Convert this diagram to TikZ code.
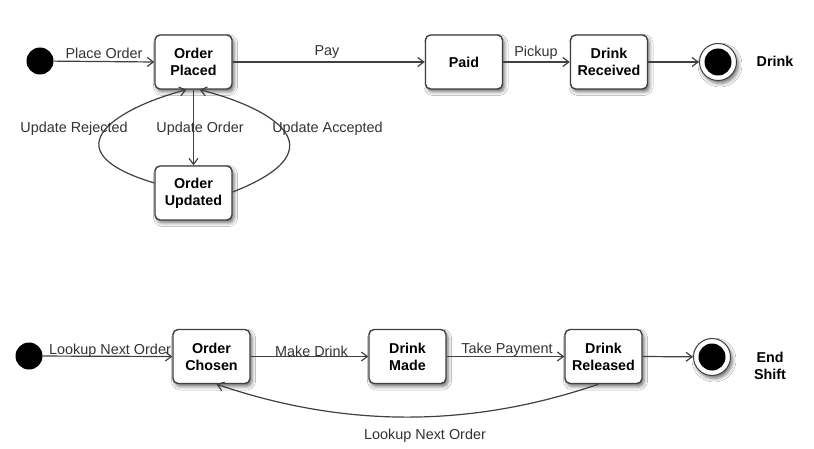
\documentclass[tikz,border=0pt]{standalone}
\usepackage{fontspec}
\setmainfont{Liberation Sans}
\usetikzlibrary{arrows.meta,shadows.blur}
\definecolor{ln}{HTML}{404040}
\definecolor{lbltxt}{HTML}{333333}
\begin{document}
\begin{tikzpicture}[x=1pt,y=1pt,
  shad/.style={blur shadow={shadow xshift=2pt, shadow yshift=-3pt, shadow blur radius=3.5pt, shadow opacity=55}},
  state/.style={draw=ln, line width=1.4pt, rounded corners=5pt, fill=white,
    minimum width=77pt, minimum height=54pt, align=center, inner sep=0pt,
    font=\fontsize{14.3}{17}\selectfont\bfseries, shad},
  initst/.style={circle, fill=black, minimum size=27pt, inner sep=0pt},
  finalst/.style={circle, draw=ln, line width=1pt, fill=white, minimum size=37pt, inner sep=0pt, shad},
  finalin/.style={circle, fill=black, minimum size=27pt, inner sep=0pt},
  lbl/.style={font=\fontsize{14.4}{17}\selectfont, text=lbltxt, inner sep=0pt},
  endlbl/.style={font=\fontsize{14.3}{17}\selectfont\bfseries, align=center, inner sep=0pt},
  arr/.style={draw=ln, line width=1.2pt, -{Straight Barb[length=6pt,width=9pt]}}
]
\useasboundingbox (0,0) rectangle (814,448);
\fill[white] (0,0) rectangle (814,448);

% ---- top diagram ----
\node[initst] (i1) at (40,387) {};
\node[state] (op) at (193.5,386) {Order\\Placed};
\node[state] (pd) at (464,386) {Paid};
\node[state] (dr) at (609,386) {Drink\\Received};
\node[finalst] (f1) at (718,386) {};
\node[finalin] (f1in) at (718,386) {};
\node[endlbl] (f1lbl) at (775,387) {Drink};
\node[state] (ou) at (193.5,255) {Order\\Updated};

\draw[arr] (i1) -- (op.west);
\draw[arr] (op.east) -- (pd.west);
\draw[arr] (pd.east) -- (dr.west);
\draw[arr] (dr.east) -- (f1);
\draw[arr] (op.south) -- (ou.north);
\draw[arr] ([yshift=10pt]ou.west) .. controls (45,298) and (120,341) .. ([xshift=-7pt]op.south);
\draw[arr] ([yshift=1pt]ou.east) .. controls (345,300) and (268,341) .. ([xshift=6pt]op.south);

\node[lbl] (l1) at (104,395) {Place Order};
\node[lbl] (l2) at (327,396) {Pay};
\node[lbl] (l3) at (536,395) {Pickup};
\node[lbl] (l4) at (74,319) {Update Rejected};
\node[lbl] (l5) at (200,319) {Update Order};
\node[lbl] (l6) at (327.5,319) {Update Accepted};

% ---- bottom diagram ----
\node[initst] (i2) at (29,92) {};
\node[state] (oc) at (211.5,91.5) {Order\\Chosen};
\node[state] (dm) at (407.5,91.5) {Drink\\Made};
\node[state] (rl) at (603.5,91.5) {Drink\\Released};
\node[finalst] (f2) at (712,91) {};
\node[finalin] (f2in) at (712,91) {};
\node[endlbl] (f2lbl) at (770,82) {End\\Shift};

\draw[arr] (i2) -- (oc.west);
\draw[arr] (oc.east) -- (dm.west);
\draw[arr] (dm.east) -- (rl.west);
\draw[arr] (rl.east) -- (f2);
\draw[arr] ([xshift=-5pt]rl.south) .. controls (470,20) and (345,20) .. ([xshift=5pt]oc.south);

\node[lbl] (b1) at (110,97) {Lookup Next Order};
\node[lbl] (b2) at (311.5,97) {Make Drink};
\node[lbl] (b3) at (507,98) {Take Payment};
\node[lbl] (b4) at (425,12) {Lookup Next Order};
\end{tikzpicture}
\end{document}
